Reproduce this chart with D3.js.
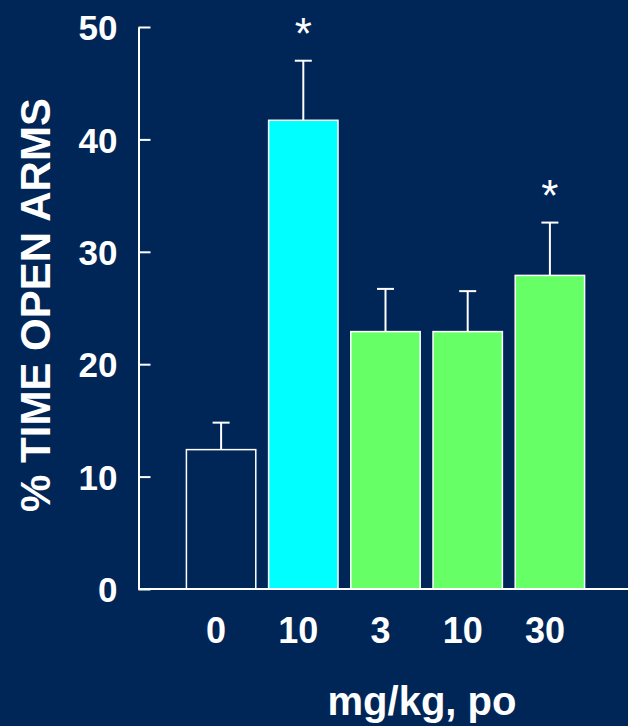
<!DOCTYPE html>
<html>
<head>
<meta charset="utf-8">
<script src="https://cdn.jsdelivr.net/npm/d3@7"></script>
<style>
  html, body { margin: 0; padding: 0; background: #002658; }
  svg { display: block; }
</style>
</head>
<body>
<svg id="chart" width="628" height="726"></svg>
<script>
// Dose groups (mg/kg, po), mean % time in open arms and SEM
const doses = ["0", "10", "3", "10", "30"];
const means = [12.4, 41.7, 22.9, 22.9, 27.9];
const sems = [2.4, 5.3, 3.8, 3.6, 4.7];
const fills = ["none", "#00ffff", "#66ff66", "#66ff66", "#66ff66"];
const significant = [false, true, false, false, true];
const yTicks = [0, 10, 20, 30, 40, 50];

const bg = "#002658";
const svg = d3.select("#chart");
svg.append("rect").attr("width", 628).attr("height", 726).attr("fill", bg);

const y = d3.scaleLinear().domain([0, 50]).range([589, 27]);
const x = d3.scaleBand()
  .domain(d3.range(doses.length))
  .range([180, 591])
  .paddingInner(0.156)
  .paddingOuter(0.078);

const font = "'Liberation Sans', Arial, sans-serif";

// Bars
svg.append("g").selectAll("rect")
  .data(means)
  .join("rect")
  .attr("x", (d, i) => x(i))
  .attr("y", d => y(d))
  .attr("width", x.bandwidth())
  .attr("height", d => y(0) - y(d))
  .attr("fill", (d, i) => fills[i])
  .attr("stroke", "#ffffff")
  .attr("stroke-width", 1.5);

// Error bars (upper only)
const err = svg.append("g").attr("stroke", "#ffffff").attr("stroke-width", 2);
means.forEach((m, i) => {
  const cx = x(i) + x.bandwidth() / 2;
  err.append("line")
    .attr("x1", cx).attr("x2", cx)
    .attr("y1", y(m)).attr("y2", y(m + sems[i]));
  err.append("line")
    .attr("x1", cx - 8.5).attr("x2", cx + 8.5)
    .attr("y1", y(m + sems[i])).attr("y2", y(m + sems[i]));
});

// Significance markers
svg.append("g").selectAll("text")
  .data(means.map((m, i) => ({ m, i })).filter(d => significant[d.i]))
  .join("text")
  .attr("x", d => x(d.i) + x.bandwidth() / 2)
  .attr("y", d => y(d.m + sems[d.i]) - 12)
  .attr("text-anchor", "middle")
  .attr("fill", "#ffffff")
  .attr("font-family", font)
  .attr("font-size", 44)
  .text("*");

// Baseline
svg.append("line")
  .attr("x1", 138.5).attr("x2", 628)
  .attr("y1", y(0)).attr("y2", y(0))
  .attr("stroke", "#ffffff").attr("stroke-width", 2);

// Y axis
const yAxis = svg.append("g")
  .attr("transform", "translate(138.5,0)")
  .call(d3.axisLeft(y).tickValues(yTicks).tickSizeInner(-12).tickSizeOuter(0).tickPadding(21));
yAxis.select(".domain").attr("stroke", "#ffffff").attr("stroke-width", 2);
yAxis.selectAll(".tick line").attr("stroke", "#ffffff").attr("stroke-width", 2);
yAxis.selectAll(".tick text")
  .attr("fill", "#ffffff")
  .attr("font-family", font)
  .attr("font-weight", "bold")
  .attr("font-size", 35)
  .attr("dy", "0.36em");

// X tick labels
svg.append("g").selectAll("text")
  .data(doses)
  .join("text")
  .attr("x", (d, i) => x(i) + x.bandwidth() / 2 - 5)
  .attr("y", 643)
  .attr("text-anchor", "middle")
  .attr("fill", "#ffffff")
  .attr("font-family", font)
  .attr("font-weight", "bold")
  .attr("font-size", 36)
  .text(d => d);

// Axis titles
svg.append("text")
  .attr("x", 422).attr("y", 715)
  .attr("text-anchor", "middle")
  .attr("fill", "#ffffff")
  .attr("font-family", font)
  .attr("font-weight", "bold")
  .attr("font-size", 40)
  .text("mg/kg, po");

svg.append("text")
  .attr("transform", "translate(50,305) rotate(-90)")
  .attr("text-anchor", "middle")
  .attr("fill", "#ffffff")
  .attr("font-family", font)
  .attr("font-weight", "bold")
  .attr("font-size", 42)
  .text("% TIME OPEN ARMS");
</script>
</body>
</html>
